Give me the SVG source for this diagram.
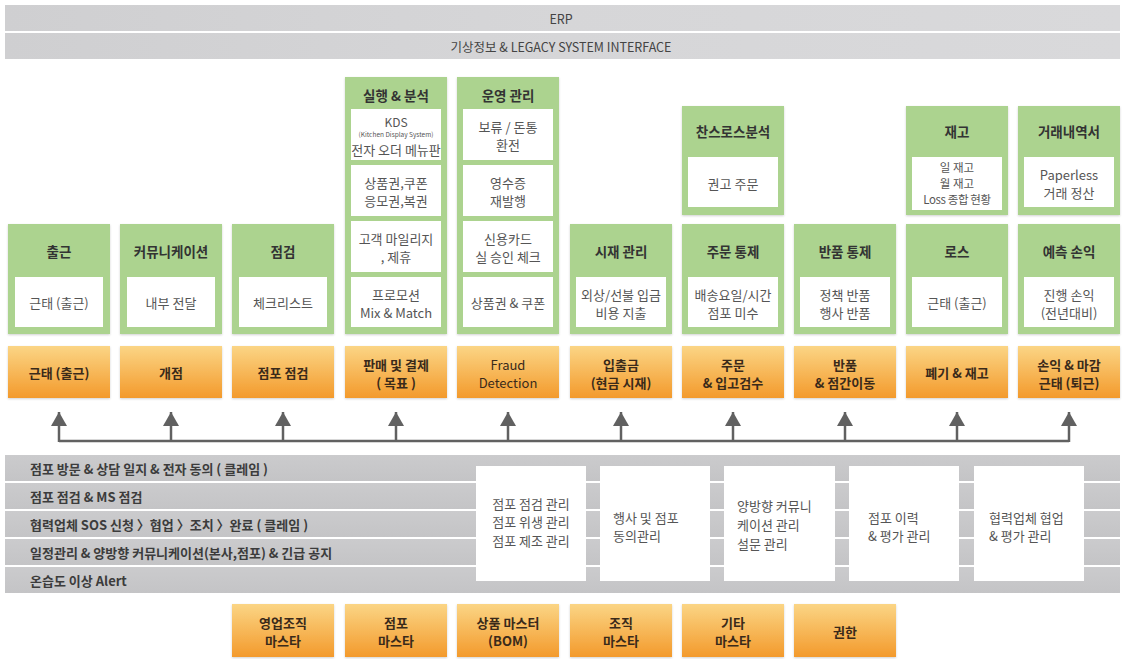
<svg xmlns="http://www.w3.org/2000/svg" width="1122" height="659" viewBox="0 0 1122 659">
<defs>
<linearGradient id="gOr" x1="0" y1="0" x2="0" y2="1"><stop offset="0" stop-color="#fbd585"/><stop offset="1" stop-color="#f39a2c"/></linearGradient>
<linearGradient id="gBar" x1="0" y1="0" x2="1" y2="0"><stop offset="0" stop-color="#cfcfd1"/><stop offset="0.5" stop-color="#d6d6d8"/><stop offset="1" stop-color="#d9d9db"/></linearGradient>
<linearGradient id="gRow" x1="0" y1="0" x2="0" y2="1"><stop offset="0" stop-color="#cbcbcd"/><stop offset="1" stop-color="#c4c4c6"/></linearGradient>
<marker id="ah" viewBox="0 0 14 16" refX="14" refY="8" markerWidth="14" markerHeight="16" markerUnits="userSpaceOnUse" orient="auto"><path d="M0,0 L14,8 L0,16 z" fill="#616161"/></marker>
<filter id="sh" x="-5%" y="-5%" width="110%" height="115%"><feDropShadow dx="0" dy="1" stdDeviation="1" flood-color="#000" flood-opacity="0.18"/></filter>
</defs>
<style>
text{font-family:"Noto Sans CJK KR","Noto Sans",sans-serif;text-anchor:middle;dominant-baseline:central}
.grn{fill:#acd38f;filter:url(#sh)}
.wht{fill:#ffffff}
.or{fill:url(#gOr);filter:url(#sh)}
.hd{font-size:13.5px;font-weight:bold;fill:#333}
.bd{font-size:13px;fill:#555}
.ot{font-size:13px;font-weight:bold;fill:#3a2a1a}
.bar{fill:url(#gBar)}
.bt{font-size:12.5px;fill:#444}
.row{fill:url(#gRow)}
.rt{font-size:13px;font-weight:bold;fill:#3c3c3c;text-anchor:start}
.lt{font-size:13px;fill:#555;text-anchor:start}
.ct{font-size:13px;fill:#555}
.conn{stroke:#616161;stroke-width:2.5;fill:none}
</style>

<g id="erp"><rect class="bar" x="5" y="5" width="1115" height="26"/><text class="bt" x="561" y="18">ERP</text></g>
<g id="legacy"><rect class="bar" x="5" y="33" width="1115" height="26"/><text class="bt" x="561" y="46">기상정보 &amp; LEGACY SYSTEM INTERFACE</text></g>

<!-- lower green row -->
<g id="g-chulgeun"><rect class="grn" x="8" y="224" width="102" height="110"/><text class="hd" x="59" y="251">출근</text><rect class="wht" x="15" y="277" width="88" height="50"/><text class="bd" x="59" y="302">근태 (출근)</text></g>
<g id="g-comm"><rect class="grn" x="120" y="224" width="102" height="110"/><text class="hd" x="171" y="251">커뮤니케이션</text><rect class="wht" x="127" y="277" width="88" height="50"/><text class="bd" x="171" y="302">내부 전달</text></g>
<g id="g-check"><rect class="grn" x="232" y="224" width="102" height="110"/><text class="hd" x="283" y="251">점검</text><rect class="wht" x="239" y="277" width="88" height="50"/><text class="bd" x="283" y="302">체크리스트</text></g>

<g id="g-exec"><rect class="grn" x="345" y="77" width="102" height="257"/><text class="hd" x="396" y="95">실행 &amp; 분석</text>
<rect class="wht" x="351" y="109" width="90" height="51"/><text class="bd" x="396" y="121" style="font-size:12px">KDS</text><text class="bd" x="396" y="134" style="font-size:6.5px">(Kitchen Display System)</text><text class="bd" x="396" y="149">전자 오더 메뉴판</text>
<rect class="wht" x="351" y="165" width="90" height="51"/><text class="bd" x="396" y="182">상품권,쿠폰</text><text class="bd" x="396" y="200">응모권,복권</text>
<rect class="wht" x="351" y="221" width="90" height="51"/><text class="bd" x="396" y="238">고객 마일리지</text><text class="bd" x="396" y="256">, 제휴</text>
<rect class="wht" x="351" y="277" width="90" height="50"/><text class="bd" x="396" y="294">프로모션</text><text class="bd" x="396" y="312">Mix &amp; Match</text></g>

<g id="g-ops"><rect class="grn" x="457" y="77" width="102" height="257"/><text class="hd" x="508" y="95">운영 관리</text>
<rect class="wht" x="463" y="109" width="90" height="51"/><text class="bd" x="508" y="126">보류 / 돈통</text><text class="bd" x="508" y="144">환전</text>
<rect class="wht" x="463" y="165" width="90" height="51"/><text class="bd" x="508" y="182">영수증</text><text class="bd" x="508" y="200">재발행</text>
<rect class="wht" x="463" y="221" width="90" height="51"/><text class="bd" x="508" y="238">신용카드</text><text class="bd" x="508" y="256">실 승인 체크</text>
<rect class="wht" x="463" y="277" width="90" height="50"/><text class="bd" x="508" y="302">상품권 &amp; 쿠폰</text></g>

<g id="g-cash"><rect class="grn" x="570" y="224" width="102" height="110"/><text class="hd" x="621" y="251">시재 관리</text><rect class="wht" x="576" y="277" width="90" height="50"/><text class="bd" x="621" y="294">외상/선불 입금</text><text class="bd" x="621" y="312">비용 지출</text></g>

<g id="g-chance"><rect class="grn" x="682" y="106" width="102" height="109"/><text class="hd" x="733" y="131">찬스로스분석</text><rect class="wht" x="688" y="157" width="90" height="50"/><text class="bd" x="733" y="183">권고 주문</text></g>
<g id="g-order"><rect class="grn" x="682" y="224" width="102" height="110"/><text class="hd" x="733" y="251">주문 통제</text><rect class="wht" x="688" y="277" width="90" height="50"/><text class="bd" x="733" y="294">배송요일/시간</text><text class="bd" x="733" y="312">점포 미수</text></g>

<g id="g-return"><rect class="grn" x="794" y="224" width="102" height="110"/><text class="hd" x="845" y="251">반품 통제</text><rect class="wht" x="800" y="277" width="90" height="50"/><text class="bd" x="845" y="294">정책 반품</text><text class="bd" x="845" y="312">행사 반품</text></g>

<g id="g-stock"><rect class="grn" x="906" y="106" width="102" height="109"/><text class="hd" x="957" y="131">재고</text><rect class="wht" x="912" y="157" width="90" height="53"/><text class="bd" x="957" y="167" style="font-size:11.5px">일 재고</text><text class="bd" x="957" y="183" style="font-size:11.5px">월 재고</text><text class="bd" x="957" y="199" style="font-size:11.5px;letter-spacing:-0.4px">Loss 종합 현황</text></g>
<g id="g-loss"><rect class="grn" x="906" y="224" width="102" height="110"/><text class="hd" x="957" y="251">로스</text><rect class="wht" x="912" y="277" width="90" height="50"/><text class="bd" x="957" y="302">근태 (출근)</text></g>

<g id="g-trade"><rect class="grn" x="1018" y="106" width="102" height="109"/><text class="hd" x="1069" y="131">거래내역서</text><rect class="wht" x="1024" y="157" width="90" height="50"/><text class="bd" x="1069" y="174">Paperless</text><text class="bd" x="1069" y="192">거래 정산</text></g>
<g id="g-pl"><rect class="grn" x="1018" y="224" width="102" height="110"/><text class="hd" x="1069" y="251">예측 손익</text><rect class="wht" x="1024" y="277" width="90" height="50"/><text class="bd" x="1069" y="294">진행 손익</text><text class="bd" x="1069" y="312">(전년대비)</text></g>

<!-- orange row -->
<g id="o1"><rect class="or" x="8" y="346" width="102" height="52"/><text class="ot" x="59" y="372">근태 (출근)</text></g>
<g id="o2"><rect class="or" x="120" y="346" width="102" height="52"/><text class="ot" x="171" y="372">개점</text></g>
<g id="o3"><rect class="or" x="232" y="346" width="102" height="52"/><text class="ot" x="283" y="372">점포 점검</text></g>
<g id="o4"><rect class="or" x="345" y="346" width="102" height="52"/><text class="ot" x="396" y="364">판매 및 결제</text><text class="ot" x="396" y="382">( 목표 )</text></g>
<g id="o5"><rect class="or" x="457" y="346" width="102" height="52"/><text class="ot" x="508" y="364" style="font-weight:normal">Fraud</text><text class="ot" x="508" y="382" style="font-weight:normal">Detection</text></g>
<g id="o6"><rect class="or" x="570" y="346" width="102" height="52"/><text class="ot" x="621" y="364">입출금</text><text class="ot" x="621" y="382">(현금 시재)</text></g>
<g id="o7"><rect class="or" x="682" y="346" width="102" height="52"/><text class="ot" x="733" y="364">주문</text><text class="ot" x="733" y="382">&amp; 입고검수</text></g>
<g id="o8"><rect class="or" x="794" y="346" width="102" height="52"/><text class="ot" x="845" y="364">반품</text><text class="ot" x="845" y="382">&amp; 점간이동</text></g>
<g id="o9"><rect class="or" x="906" y="346" width="102" height="52"/><text class="ot" x="957" y="372">폐기 &amp; 재고</text></g>
<g id="o10"><rect class="or" x="1018" y="346" width="102" height="52"/><text class="ot" x="1069" y="364">손익 &amp; 마감</text><text class="ot" x="1069" y="382">근태 (퇴근)</text></g>

<!-- connectors -->
<g id="connectors">
<path class="conn" d="M59,441 H1069"/>
<line class="conn" x1="59" y1="442" x2="59" y2="412" marker-end="url(#ah)"/>
<line class="conn" x1="171" y1="441" x2="171" y2="412" marker-end="url(#ah)"/>
<line class="conn" x1="283" y1="441" x2="283" y2="412" marker-end="url(#ah)"/>
<line class="conn" x1="396" y1="441" x2="396" y2="412" marker-end="url(#ah)"/>
<line class="conn" x1="508" y1="441" x2="508" y2="412" marker-end="url(#ah)"/>
<line class="conn" x1="621" y1="441" x2="621" y2="412" marker-end="url(#ah)"/>
<line class="conn" x1="733" y1="441" x2="733" y2="412" marker-end="url(#ah)"/>
<line class="conn" x1="845" y1="441" x2="845" y2="412" marker-end="url(#ah)"/>
<line class="conn" x1="957" y1="441" x2="957" y2="412" marker-end="url(#ah)"/>
<line class="conn" x1="1069" y1="442" x2="1069" y2="412" marker-end="url(#ah)"/>
</g>

<!-- gray rows -->
<g id="rows">
<rect class="row" x="5" y="455" width="1115" height="26"/><text class="rt" x="30" y="468">점포 방문 &amp; 상담 일지 &amp; 전자 동의 ( 클레임 )</text>
<rect class="row" x="5" y="483" width="1115" height="26"/><text class="rt" x="30" y="496">점포 점검 &amp; MS 점검</text>
<rect class="row" x="5" y="511" width="1115" height="26"/><text class="rt" x="30" y="524">협력업체 SOS 신청 〉협업 〉조치 〉완료 ( 클레임 )</text>
<rect class="row" x="5" y="539" width="1115" height="26"/><text class="rt" x="30" y="552">일정관리 &amp; 양방향 커뮤니케이션(본사,점포) &amp; 긴급 공지</text>
<rect class="row" x="5" y="567" width="1115" height="26"/><text class="rt" x="30" y="580">온습도 이상 Alert</text>
</g>

<g id="w1"><rect class="wht" x="476" y="466" width="110" height="115"/><text class="ct" x="531" y="503">점포 점검 관리</text><text class="ct" x="531" y="521">점포 위생 관리</text><text class="ct" x="531" y="540">점포 제조 관리</text></g>
<g id="w2"><rect class="wht" x="600" y="466" width="110" height="115"/><text class="lt" x="613" y="517">행사 및 점포</text><text class="lt" x="613" y="535">동의관리</text></g>
<g id="w3"><rect class="wht" x="724" y="466" width="111" height="115"/><text class="lt" x="737" y="505">양방향 커뮤니</text><text class="lt" x="737" y="524">케이션 관리</text><text class="lt" x="737" y="543">설문 관리</text></g>
<g id="w4"><rect class="wht" x="849" y="466" width="110" height="115"/><text class="lt" x="868" y="517">점포 이력</text><text class="lt" x="868" y="535">&amp; 평가 관리</text></g>
<g id="w5"><rect class="wht" x="974" y="466" width="110" height="115"/><text class="lt" x="989" y="517">협력업체 협업</text><text class="lt" x="989" y="535">&amp; 평가 관리</text></g>

<!-- bottom masters -->
<g id="m1"><rect class="or" x="232" y="604" width="102" height="53"/><text class="ot" x="283" y="622">영업조직</text><text class="ot" x="283" y="640">마스타</text></g>
<g id="m2"><rect class="or" x="345" y="604" width="102" height="53"/><text class="ot" x="396" y="622">점포</text><text class="ot" x="396" y="640">마스타</text></g>
<g id="m3"><rect class="or" x="457" y="604" width="102" height="53"/><text class="ot" x="508" y="622">상품 마스터</text><text class="ot" x="508" y="640">(BOM)</text></g>
<g id="m4"><rect class="or" x="570" y="604" width="102" height="53"/><text class="ot" x="621" y="622">조직</text><text class="ot" x="621" y="640">마스타</text></g>
<g id="m5"><rect class="or" x="682" y="604" width="102" height="53"/><text class="ot" x="733" y="622">기타</text><text class="ot" x="733" y="640">마스타</text></g>
<g id="m6"><rect class="or" x="794" y="604" width="102" height="53"/><text class="ot" x="845" y="631">권한</text></g>
</svg>
